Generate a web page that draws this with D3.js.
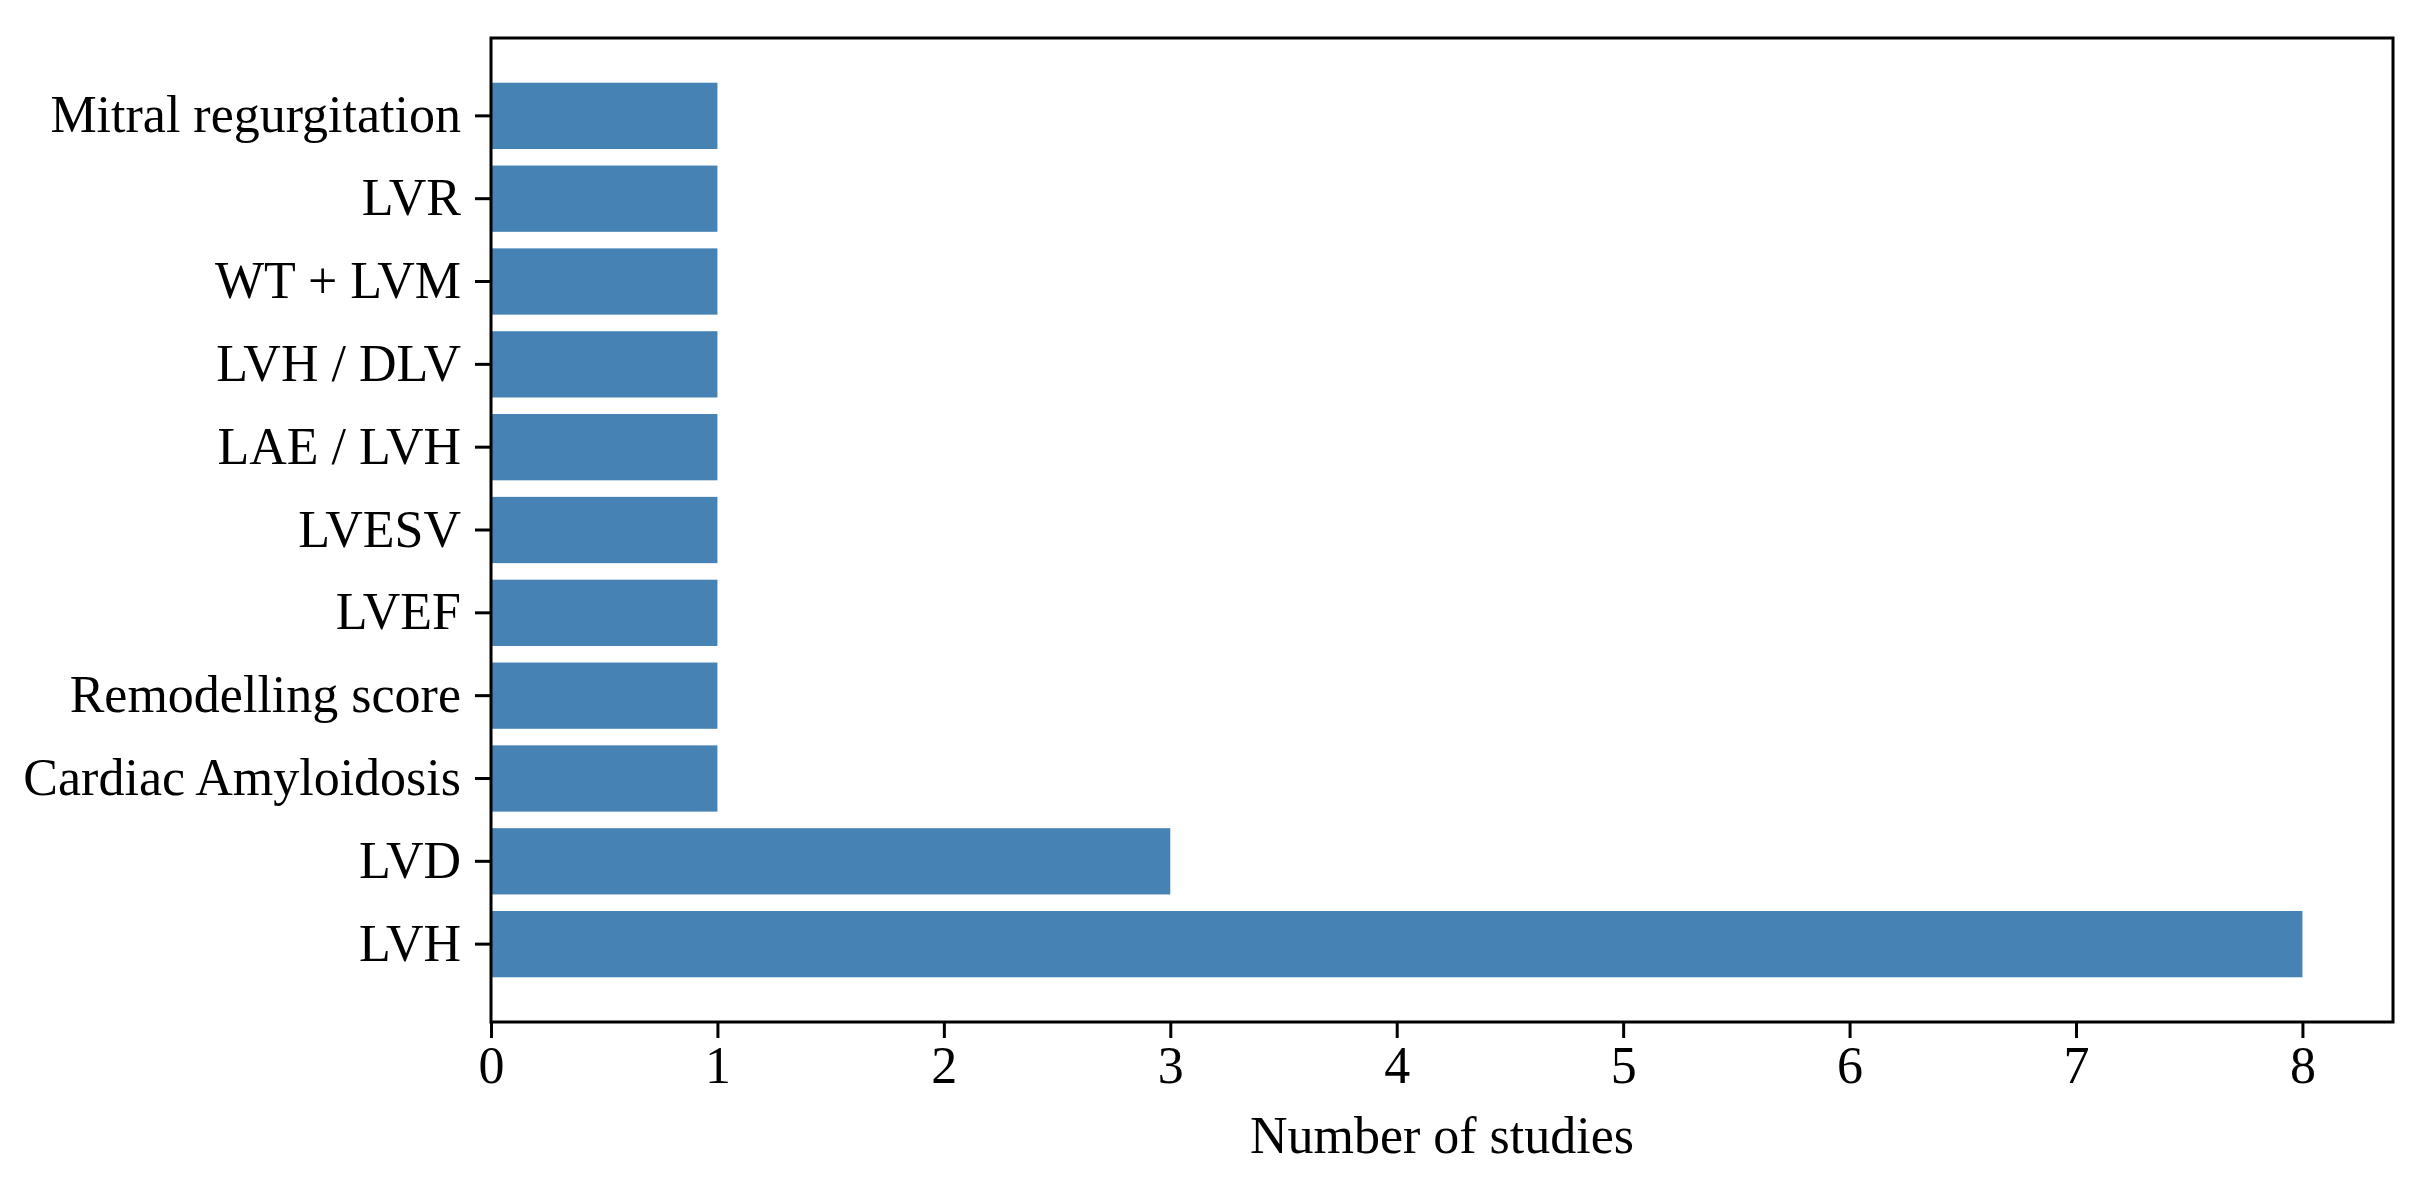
<!DOCTYPE html>
<html>
<head>
<meta charset="utf-8">
<script src="https://cdn.jsdelivr.net/npm/d3@7"></script>
<style>
  body { margin: 0; background: #fff; }
  text { font-family: "Liberation Serif", "Times New Roman", serif; fill: #000; }
</style>
</head>
<body>
<div id="chart"></div>
<script>
// categories from bottom to top, as in the figure
const categories = ["LVH", "LVD", "Cardiac Amyloidosis", "Remodelling score", "LVEF", "LVESV",
                    "LAE / LVH", "LVH / DLV", "WT + LVM", "LVR", "Mitral regurgitation"];
const studies = [8, 3, 1, 1, 1, 1, 1, 1, 1, 1, 1];
const xTicks = [0, 1, 2, 3, 4, 5, 6, 7, 8];

const width = 2427, height = 1189,
  margin = {top: 38, right: 34, bottom: 167, left: 491};

const svg = d3.select("#chart").append("svg")
  .attr("width", width)
  .attr("height", height);

const data = categories.map((c, i) => ({cat: c, n: studies[i]}));

const xScale = d3.scaleLinear()
  .domain([0, 8.4])
  .range([margin.left, width - margin.right]);

const yScale = d3.scaleBand()
  .domain(categories.slice().reverse())
  .range([margin.top, height - margin.bottom])
  .paddingInner(0.2)
  .paddingOuter(0.54);

svg.append("g")
  .selectAll("rect")
  .data(data)
  .enter()
  .append("rect")
    .attr("x", xScale(0))
    .attr("y", d => yScale(d.cat))
    .attr("width", d => xScale(d.n) - xScale(0))
    .attr("height", yScale.bandwidth())
    .style("fill", "#4682b4");

// frame
svg.append("rect")
  .attr("x", margin.left)
  .attr("y", margin.top)
  .attr("width", width - margin.right - margin.left)
  .attr("height", height - margin.bottom - margin.top)
  .style("fill", "none")
  .style("stroke", "#000")
  .style("stroke-width", 3);

const xAxis = svg.append("g")
  .attr("transform", "translate(0," + (height - margin.bottom) + ")")
  .call(d3.axisBottom(xScale).tickValues(xTicks).tickFormat(d3.format("d")).tickSize(16).tickPadding(8));

const yAxis = svg.append("g")
  .attr("transform", "translate(" + margin.left + ",0)")
  .call(d3.axisLeft(yScale).tickSize(16).tickPadding(14));

[xAxis, yAxis].forEach(g => {
  g.select(".domain").remove();
  g.selectAll(".tick line").style("stroke", "#000").style("stroke-width", 3);
  g.selectAll(".tick text").style("font-size", "52px").style("font-family", "Liberation Serif");
});

svg.append("text")
  .attr("x", (margin.left + width - margin.right) / 2)
  .attr("y", 1153)
  .attr("text-anchor", "middle")
  .style("font-size", "52px")
  .text("Number of studies");
</script>
</body>
</html>
